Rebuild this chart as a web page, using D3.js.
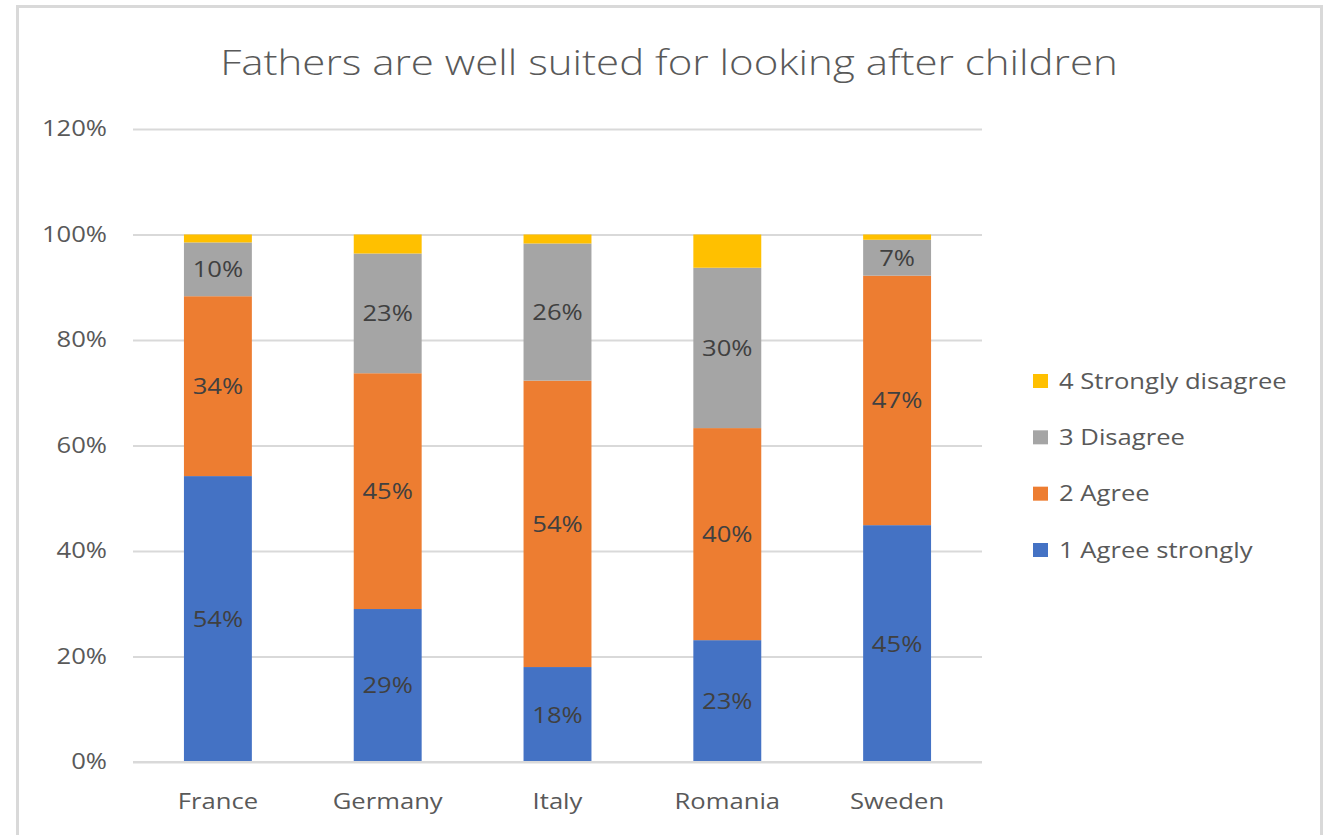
<!DOCTYPE html>
<html>
<head>
<meta charset="utf-8">
<script src="https://cdn.jsdelivr.net/npm/d3@7"></script>
<style>
  html, body { margin: 0; padding: 0; background: #fff; }
  svg text { font-family: "Open Sans", "Noto Sans", sans-serif; }
</style>
</head>
<body>
<svg id="chart" width="1327" height="835"></svg>
<script>
// Survey answers by country, share of respondents
const countries = ["France", "Germany", "Italy", "Romania", "Sweden"];
const seriesNames = ["1 Agree strongly", "2 Agree", "3 Disagree", "4 Strongly disagree"];
const agreeStrongly    = [0.542, 0.290, 0.180, 0.231, 0.449];
const agree            = [0.341, 0.447, 0.543, 0.402, 0.473];
const disagree         = [0.102, 0.227, 0.260, 0.304, 0.068];
const stronglyDisagree = [0.015, 0.036, 0.017, 0.063, 0.010];
const yTicks = [0, 0.2, 0.4, 0.6, 0.8, 1.0, 1.2];
const seriesColors = ["#4472c4", "#ed7d31", "#a5a5a5", "#ffc000"];
const titleText = "Fathers are well suited for looking after children";

const seriesValues = [agreeStrongly, agree, disagree, stronglyDisagree];
const rows = countries.map((c, i) => {
  const r = { country: c };
  seriesNames.forEach((s, k) => { r[s] = seriesValues[k][i]; });
  return r;
});
const stacked = d3.stack().keys(seriesNames)(rows);

const svg = d3.select("#chart");

// widen glyphs horizontally to a condensed-looking wide face
function widen(sel, k) {
  sel.each(function () {
    const w = this.getComputedTextLength();
    d3.select(this).attr("textLength", w * k).attr("lengthAdjust", "spacingAndGlyphs");
  });
}
const WIDEN = 1.22;

// chart frame
svg.append("rect")
  .attr("x", 0).attr("y", 0).attr("width", 1327).attr("height", 835)
  .attr("fill", "#fff");
svg.append("path")
  .attr("d", "M17.5,840 V6.5 H1321.5 V840")
  .attr("fill", "none").attr("stroke", "#d9d9d9").attr("stroke-width", 3);

const plot = { left: 133, right: 982, top: 129, bottom: 762 };

const x = d3.scaleBand()
  .domain(countries)
  .range([plot.left, plot.right])
  .paddingInner(0.6)
  .paddingOuter(0.3);

const y = d3.scaleLinear()
  .domain([0, 1.2])
  .range([plot.bottom, plot.top]);

const pct = d3.format(".0%");

// title
svg.append("text")
  .attr("x", 669).attr("y", 75)
  .attr("text-anchor", "middle")
  .attr("fill", "#595959")
  .style("font-size", "35px")
  .style("font-weight", 300)
  .text(titleText)
  .call(widen, 1.2);

// gridlines and value axis labels
const yAxis = d3.axisLeft(y).tickValues(yTicks).tickFormat(pct)
  .tickSize(-(plot.right - plot.left)).tickPadding(26);
const yg = svg.append("g")
  .attr("transform", `translate(${plot.left},0)`)
  .call(yAxis);
yg.select(".domain").remove();
yg.selectAll(".tick line").attr("stroke", "#d9d9d9").attr("stroke-width", 2);
yg.selectAll(".tick text")
  .attr("fill", "#595959")
  .style("font-size", "21px")
  .style("font-family", "\"Open Sans\", sans-serif")
  .call(widen, WIDEN);

// stacked columns
const groups = svg.append("g").selectAll("g")
  .data(stacked)
  .join("g")
  .attr("fill", (d, i) => seriesColors[i]);

groups.selectAll("rect")
  .data(d => d.map(p => ({ p, key: d.key })))
  .join("rect")
  .attr("x", d => x(d.p.data.country))
  .attr("y", d => y(d.p[1]))
  .attr("width", x.bandwidth())
  .attr("height", d => y(d.p[0]) - y(d.p[1]));

// data labels on the three main series
const labelled = stacked.slice(0, 3);
svg.append("g").selectAll("g")
  .data(labelled)
  .join("g")
  .selectAll("text")
  .data(d => d)
  .join("text")
  .attr("x", d => x(d.data.country) + x.bandwidth() / 2)
  .attr("y", d => (y(d[0]) + y(d[1])) / 2)
  .attr("dy", "0.38em")
  .attr("text-anchor", "middle")
  .attr("fill", "#404040")
  .style("font-size", "21px")
  .text(d => pct(Math.round((d[1] - d[0]) * 100) / 100))
  .call(widen, WIDEN);

// baseline axis
svg.append("line")
  .attr("x1", plot.left).attr("x2", plot.right)
  .attr("y1", y(0)).attr("y2", y(0))
  .attr("stroke", "#d9d9d9").attr("stroke-width", 2);

// category labels
const xAxis = d3.axisBottom(x).tickSize(0).tickPadding(32);
const xg = svg.append("g")
  .attr("transform", `translate(0,${plot.bottom})`)
  .call(xAxis);
xg.select(".domain").remove();
xg.selectAll(".tick text")
  .attr("fill", "#595959")
  .style("font-size", "21px")
  .style("font-family", "\"Open Sans\", sans-serif")
  .call(widen, WIDEN);

// legend, listed top-down from the last series
const legendItems = seriesNames.map((s, i) => ({ name: s, color: seriesColors[i] })).reverse();
const legend = svg.append("g");
const ly = d3.scalePoint().domain(legendItems.map(d => d.name)).range([381, 550]);
const li = legend.selectAll("g").data(legendItems).join("g")
  .attr("transform", d => `translate(1033,${ly(d.name)})`);
li.append("rect")
  .attr("x", 0).attr("y", -7).attr("width", 15).attr("height", 14)
  .attr("fill", d => d.color);
li.append("text")
  .attr("x", 26).attr("dy", "0.36em")
  .attr("fill", "#595959")
  .style("font-size", "21px")
  .text(d => d.name)
  .call(widen, WIDEN);
</script>
</body>
</html>
